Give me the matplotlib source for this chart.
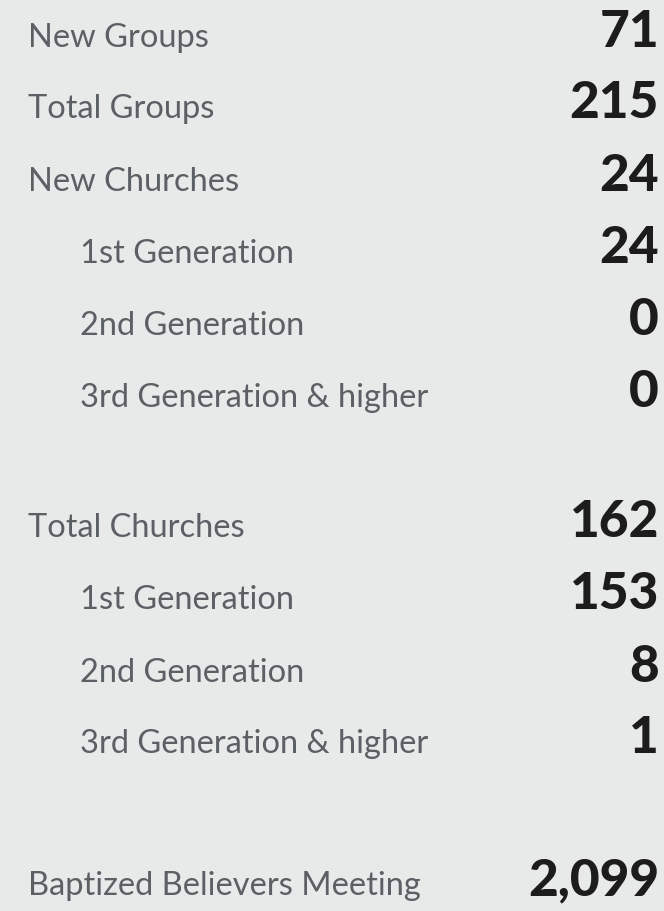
import matplotlib.pyplot as plt

labels = ["New Groups", "Total Groups", "New Churches", "1st Generation", "2nd Generation",
          "3rd Generation & higher", "Total Churches", "1st Generation", "2nd Generation",
          "3rd Generation & higher", "Baptized Believers Meeting"]
values = ["71", "215", "24", "24", "0", "0", "162", "153", "8", "1", "2,099"]
indent = [0, 0, 0, 1, 1, 1, 0, 1, 1, 1, 0]
# baseline of each row, in pixels from the top
baselines = [47, 118, 191, 263, 335, 407, 537, 609, 682, 753, 895]

bg = "#e8e9e9"
fig = plt.figure(figsize=(6.64, 9.12), dpi=100, facecolor=bg)
ax = fig.add_axes([0, 0, 1, 1])
ax.set_facecolor(bg)
ax.set_xlim(0, 664)
ax.set_ylim(912, 0)
ax.axis("off")

for lab, val, ind, y in zip(labels, values, indent, baselines):
    ax.text(28 + 52 * ind, y, lab, fontsize=23.5, family="Lato", color="#5b6064",
            va="baseline", ha="left")
    ax.text(659, y, val, fontsize=37, family="Lato", fontweight="black", color="#1c1c1c",
            va="baseline", ha="right")

fig.savefig("out.png", dpi=100, facecolor=bg)
